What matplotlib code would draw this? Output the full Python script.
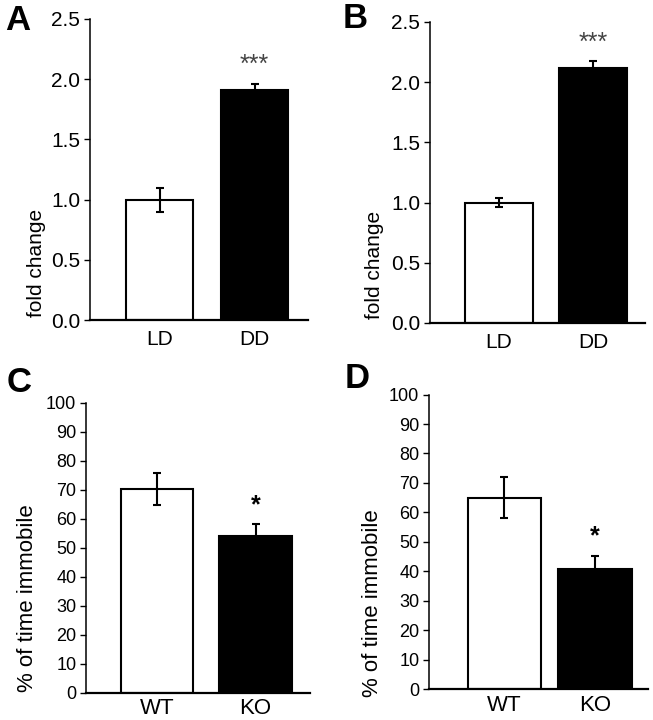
import matplotlib
matplotlib.use("Agg")
import matplotlib.pyplot as plt

plt.rcParams['font.family'] = ['Liberation Sans', 'DejaVu Sans']

# Data
cats_AB = ["LD", "DD"]
vals_A = [1.00, 1.91]
err_A = [0.10, 0.05]
vals_B = [1.00, 2.12]
err_B = [0.04, 0.06]
ticks_AB = [0.0, 0.5, 1.0, 1.5, 2.0, 2.5]
ticklabels_AB = ["0.0", "0.5", "1.0", "1.5", "2.0", "2.5"]

cats_CD = ["WT", "KO"]
vals_C = [70.3, 54.2]
err_C = [5.5, 4.0]
vals_D = [65.0, 40.7]
err_D = [7.0, 4.5]
ticks_CD = list(range(0, 101, 10))

sig_A = "***"
sig_B = "***"
sig_C = "*"
sig_D = "*"

W, H = 653, 720
fig = plt.figure(figsize=(W / 100, H / 100), dpi=100)


def px_axes(left, right, top, bottom):
    return fig.add_axes([left / W, 1 - bottom / H, (right - left) / W, (bottom - top) / H])


def style(ax, ticks, ticklabels, tsize, xlsize, xpad):
    for s in ["top", "right"]:
        ax.spines[s].set_visible(False)
    ax.spines["left"].set_linewidth(1.1)
    ax.spines["bottom"].set_linewidth(1.6)
    ax.set_yticks(ticks)
    ax.set_yticklabels(ticklabels, fontsize=tsize)
    ax.tick_params(axis="y", direction="out", length=4, width=1.0, pad=3)
    ax.tick_params(axis="x", length=0, pad=xpad, labelsize=xlsize)


def draw(ax, cats, vals, errs, width):
    x = list(range(len(cats)))
    ax.bar(x, vals, width=width, color=["white", "black"], edgecolor="black",
           linewidth=1.5, zorder=2)
    ax.errorbar(x, vals, yerr=errs, fmt="none", ecolor="black", elinewidth=1.5,
                capsize=3, capthick=1.5, zorder=3)
    ax.set_xticks(x)
    ax.set_xticklabels(cats)


# Panel A
axA = px_axes(90, 308, 19, 320)
draw(axA, cats_AB, vals_A, err_A, 0.705)
axA.set_xlim(-0.732, 1.563)
axA.set_ylim(0, 2.5)
style(axA, ticks_AB, ticklabels_AB, 15, 15, 7)
axA.text(1, vals_A[1] + err_A[1] + 0.16, sig_A, ha="center", va="center",
         fontsize=18, color="#444444")

# Panel B
axB = px_axes(430, 645, 22, 323)
draw(axB, cats_AB, vals_B, err_B, 0.72)
axB.set_xlim(-0.734, 1.553)
axB.set_ylim(0, 2.5)
style(axB, ticks_AB, ticklabels_AB, 15, 15, 7)
axB.text(1, vals_B[1] + err_B[1] + 0.15, sig_B, ha="center", va="center",
         fontsize=18, color="#444444")

# Panel C
axC = px_axes(86, 310, 402.7, 692.7)
draw(axC, cats_CD, vals_C, err_C, 0.735)
axC.set_xlim(-0.72, 1.553)
axC.set_ylim(0, 100)
style(axC, ticks_CD, [str(t) for t in ticks_CD], 13, 16, 4)
axC.text(1, vals_C[1] + err_C[1] + 6.5, sig_C, ha="center", va="center",
         fontsize=18, fontweight="bold", color="black")

# Panel D
axD = px_axes(429, 648, 394.6, 689)
draw(axD, cats_CD, vals_D, err_D, 0.81)
axD.set_xlim(-0.834, 1.586)
axD.set_ylim(0, 100)
style(axD, ticks_CD, [str(t) for t in ticks_CD], 13, 16, 4)
axD.text(1, vals_D[1] + err_D[1] + 6.5, sig_D, ha="center", va="center",
         fontsize=18, fontweight="bold", color="black")

# Y labels
def ylab(x, y, s, size):
    fig.text(x / W, 1 - y / H, s, rotation=90, ha="center", va="center", fontsize=size)

ylab(36, 263, "fold change", 15)
ylab(375, 265, "fold change", 15)
ylab(28, 598, "% of time immobile", 16)
ylab(372, 603, "% of time immobile", 16)

# Panel letters
def letter(x, y, s):
    fig.text(x / W, 1 - y / H, s, ha="center", va="center", fontsize=25, fontweight="bold")

letter(18, 21, "A")
letter(355, 19, "B")
letter(19, 383, "C")
letter(357, 378, "D")

fig.savefig("out.png", dpi=100)
